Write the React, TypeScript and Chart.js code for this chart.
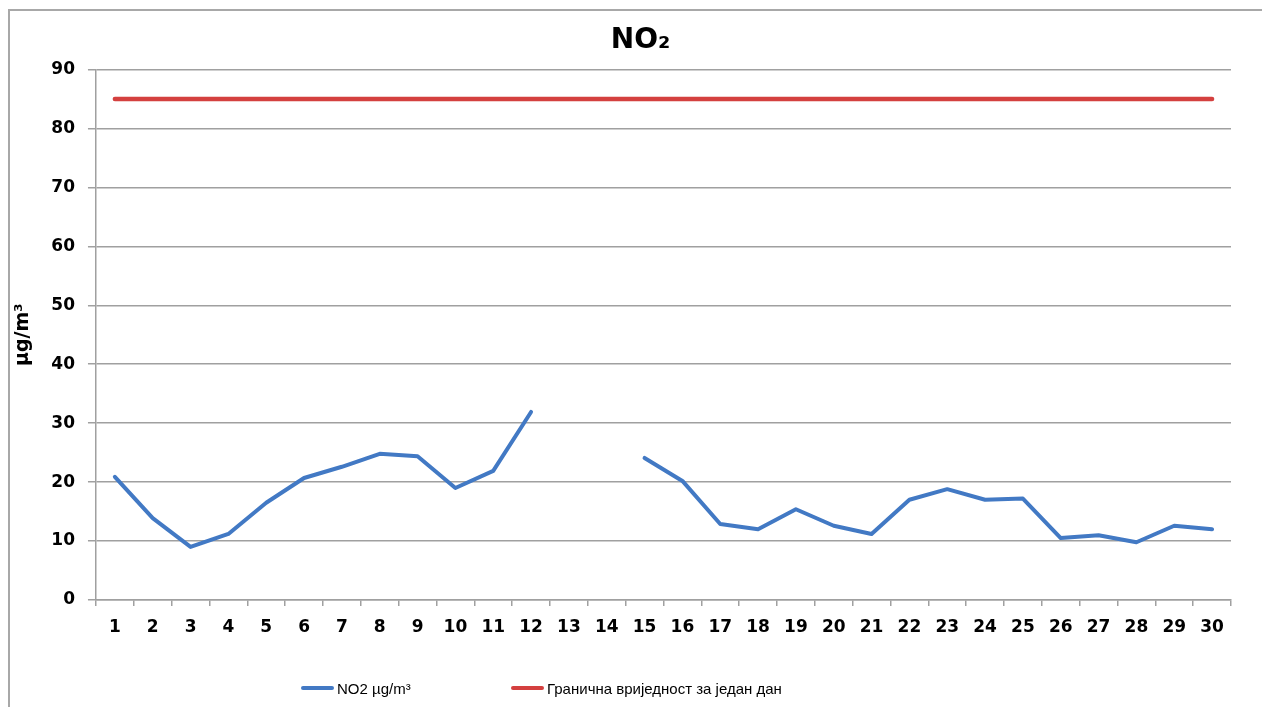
import React, { useEffect, useRef } from "react";
import { Chart, registerables } from "chart.js";

Chart.register(...registerables);

const days = [
  "1", "2", "3", "4", "5", "6", "7", "8", "9", "10",
  "11", "12", "13", "14", "15", "16", "17", "18", "19", "20",
  "21", "22", "23", "24", "25", "26", "27", "28", "29", "30",
];

const no2Values: (number | null)[] = [
  20.9, 13.9, 9.0, 11.2, 16.5, 20.7, 22.6, 24.8, 24.4, 19.0,
  21.9, 31.9, null, null, 24.1, 20.2, 12.9, 12.0, 15.4, 12.6,
  11.2, 17.0, 18.8, 17.0, 17.2, 10.5, 11.0, 9.8, 12.6, 12.0,
];

const limitValues = [
  85, 85, 85, 85, 85, 85, 85, 85, 85, 85,
  85, 85, 85, 85, 85, 85, 85, 85, 85, 85,
  85, 85, 85, 85, 85, 85, 85, 85, 85, 85,
];

const seriesLabels = ["NO2 µg/m³", "Гранична вриједност за један дан"];
const seriesColors = ["#4279c4", "#d4403f"];

const chartTitle = "NO₂";
const yAxisTitle = "µg/m³";
const yMin = 0;
const yMax = 90;
const yStep = 10;

const gridColor = "#a0a0a0";
const tickFont = { family: "DejaVu Sans", weight: "bold" as const, size: 17 };

const shiftTitle = {
  id: "shiftTitle",
  afterLayout(chart: any) {
    const t = chart.titleBlock;
    if (t) {
      t.left += 20;
      t.right += 20;
    }
  },
};

export default function App() {
  const canvasRef = useRef<HTMLCanvasElement | null>(null);

  useEffect(() => {
    document.documentElement.style.overflow = "hidden";
    document.body.style.overflow = "hidden";
    const canvas = canvasRef.current;
    if (!canvas) return;
    const chart = new Chart(canvas, {
      type: "line",
      plugins: [shiftTitle],
      data: {
        labels: days,
        datasets: [
          {
            label: seriesLabels[0],
            data: no2Values,
            borderColor: seriesColors[0],
            backgroundColor: seriesColors[0],
            borderWidth: 4,
            pointRadius: 0,
            spanGaps: false,
            tension: 0,
            borderCapStyle: "round",
            borderJoinStyle: "round",
          },
          {
            label: seriesLabels[1],
            data: limitValues,
            borderColor: seriesColors[1],
            backgroundColor: seriesColors[1],
            borderWidth: 4.5,
            pointRadius: 0,
            tension: 0,
            borderCapStyle: "round",
          },
        ],
      },
      options: {
        responsive: false,
        animation: false,
        layout: { padding: { left: 0, right: 39, top: 0, bottom: 59.6 } },
        plugins: {
          legend: { display: false },
          tooltip: { enabled: false },
          title: {
            display: true,
            text: chartTitle,
            color: "#000",
            font: { family: "DejaVu Sans", weight: "bold", size: 28 },
            padding: { top: 12.7, bottom: 12.2 },
          },
        },
        scales: {
          x: {
            offset: true,
            grid: {
              offset: true,
              drawOnChartArea: false,
              drawTicks: true,
              tickLength: 6,
              color: gridColor,
              lineWidth: 1.5,
            },
            border: { color: gridColor, width: 1.5 },
            ticks: {
              color: "#000",
              font: tickFont,
              padding: 11,
              maxRotation: 0,
              autoSkip: false,
            },
          },
          y: {
            min: yMin,
            max: yMax,
            ticks: { stepSize: yStep, padding: 13, color: "#000", font: tickFont },
            grid: { tickLength: 8, color: gridColor, lineWidth: 1.5 },
            border: { color: gridColor, width: 1.5 },
            title: {
              display: true,
              text: yAxisTitle,
              color: "#000",
              font: { family: "DejaVu Sans", weight: "bold", size: 19 },
              padding: { top: 2.1, bottom: 3.4 },
            },
          },
        },
      },
    });
    return () => chart.destroy();
  }, []);

  const legendLeft = [291, 501];
  return (
    <div
      style={{
        marginTop: 1,
        position: "relative",
        width: 1262,
        height: 698,
        borderTop: "2px solid #a8a8a8",
        borderLeft: "2px solid #a8a8a8",
        boxSizing: "border-box",
      }}
    >
      <canvas ref={canvasRef} width={1260} height={697} style={{ display: "block" }} />
      {seriesLabels.map((label, i) => (
        <div
          key={label}
          style={{
            position: "absolute",
            left: legendLeft[i],
            top: 668,
            height: 18,
            display: "flex",
            alignItems: "center",
            fontFamily: "'Liberation Sans', Arial, sans-serif",
            fontSize: 15,
            color: "#000",
            whiteSpace: "nowrap",
          }}
        >
          <span
            style={{
              display: "inline-block",
              width: 33,
              height: 4,
              borderRadius: 2,
              background: seriesColors[i],
              marginRight: 3,
            }}
          />
          <span>{label}</span>
        </div>
      ))}
    </div>
  );
}
